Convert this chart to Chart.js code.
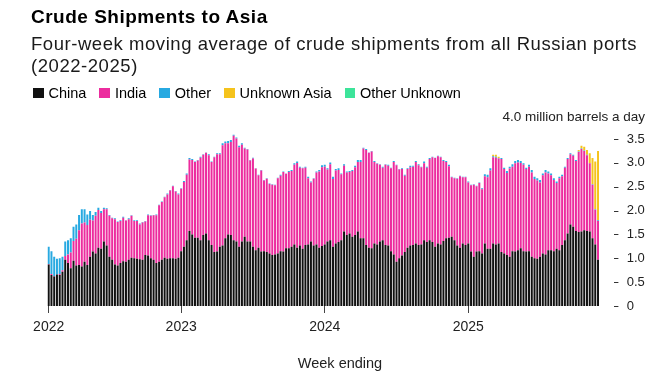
<!DOCTYPE html>
<html>
<head>
<meta charset="utf-8">
<title>Crude Shipments to Asia</title>
<script src="https://cdn.jsdelivr.net/npm/chart.js@4.4.1/dist/chart.umd.min.js"></script>
<style>
  html, body { margin: 0; padding: 0; background: #fff; }
  body { width: 658px; height: 378px; position: relative; overflow: hidden;
         font-family: "Liberation Sans", Arial, sans-serif; color: #000; }
  #chart { position: absolute; left: 0; top: 0; }
  .txt { position: absolute; white-space: nowrap; }
  #title { left: 31px; top: 5px; font-size: 19px; font-weight: bold; line-height: 24px; letter-spacing: 0.5px; }
  #sub { left: 31px; top: 33px; font-size: 18.5px; line-height: 21.7px; letter-spacing: 0.55px; color: #1a1a1a; }
  #legend { left: 33px; top: 86px; display: flex; font-size: 14.5px; line-height: 14px; }
  #legend .item { display: flex; align-items: center; margin-right: 13px; }
  #legend .box { width: 10.5px; height: 10.5px; margin-right: 5px; }
  #unit { right: 13px; top: 109px; font-size: 13.5px; line-height: 16px; color: #222; }
  #xtitle { left: 340px; top: 354px; transform: translateX(-50%); font-size: 14.5px; line-height: 18px; color: #222; }
</style>
</head>
<body>
<canvas id="chart" width="658" height="378"></canvas>
<div class="txt" id="title">Crude Shipments to Asia</div>
<div class="txt" id="sub">Four-week moving average of crude shipments from all Russian ports<br>(2022-2025)</div>
<div class="txt" id="legend"></div>
<div class="txt" id="unit">4.0 million barrels a day</div>
<div class="txt" id="xtitle">Week ending</div>
<script>
// Weekly values, million barrels a day
const china = [
  0.87, 0.65, 0.62, 0.66, 0.65, 0.72, 0.97, 0.90, 0.79, 0.95,
  0.85, 0.86, 0.83, 0.93, 0.86, 1.03, 1.14, 1.10, 1.22, 1.20,
  1.35, 1.27, 1.03, 0.97, 0.87, 0.85, 0.90, 0.94, 0.93, 0.97,
  1.01, 1.00, 0.99, 0.98, 0.97, 1.07, 1.06, 1.00, 0.97, 0.90,
  0.93, 0.97, 1.01, 0.99, 1.00, 1.00, 0.99, 1.01, 1.15, 1.24,
  1.38, 1.57, 1.50, 1.43, 1.43, 1.38, 1.49, 1.52, 1.38, 1.28,
  1.13, 1.14, 1.24, 1.27, 1.42, 1.50, 1.49, 1.38, 1.35, 1.24,
  1.35, 1.45, 1.35, 1.35, 1.24, 1.17, 1.22, 1.14, 1.15, 1.13,
  1.10, 1.07, 1.08, 1.10, 1.15, 1.14, 1.21, 1.21, 1.24, 1.29,
  1.22, 1.27, 1.20, 1.28, 1.29, 1.35, 1.27, 1.29, 1.22, 1.26,
  1.29, 1.35, 1.38, 1.24, 1.31, 1.34, 1.38, 1.56, 1.49, 1.52,
  1.45, 1.49, 1.56, 1.42, 1.42, 1.28, 1.22, 1.21, 1.31, 1.29,
  1.35, 1.38, 1.28, 1.27, 1.15, 1.08, 0.93, 1.00, 1.06, 1.13,
  1.22, 1.27, 1.28, 1.31, 1.28, 1.29, 1.38, 1.34, 1.38, 1.34,
  1.24, 1.31, 1.29, 1.36, 1.42, 1.43, 1.45, 1.38, 1.27, 1.22,
  1.31, 1.28, 1.31, 1.14, 1.03, 1.14, 1.15, 1.10, 1.31, 1.20,
  1.20, 1.31, 1.29, 1.31, 1.13, 1.10, 1.07, 1.03, 1.15, 1.14,
  1.17, 1.21, 1.15, 1.14, 1.15, 1.03, 1.00, 0.99, 1.03, 1.10,
  1.08, 1.17, 1.17, 1.15, 1.20, 1.17, 1.28, 1.38, 1.52, 1.71,
  1.66, 1.57, 1.55, 1.56, 1.59, 1.57, 1.56, 1.42, 1.29, 0.97
];
const india = [
  0.01, 0.02, 0.01, 0.00, 0.02, 0.03, 0.08, 0.18, 0.33, 0.41,
  0.56, 0.73, 0.90, 0.82, 0.84, 0.78, 0.65, 0.79, 0.79, 0.75,
  0.68, 0.76, 0.86, 0.87, 0.95, 0.91, 0.88, 0.91, 0.86, 0.85,
  0.88, 0.78, 0.79, 0.73, 0.78, 0.70, 0.84, 0.89, 0.93, 1.00,
  1.18, 1.21, 1.27, 1.35, 1.42, 1.51, 1.41, 1.33, 1.31, 1.36,
  1.37, 1.50, 1.56, 1.59, 1.62, 1.73, 1.68, 1.69, 1.78, 1.74,
  1.99, 2.04, 1.94, 2.10, 1.99, 1.91, 1.95, 2.19, 2.16, 2.09,
  2.03, 1.85, 1.93, 1.70, 1.85, 1.71, 1.52, 1.70, 1.48, 1.54,
  1.46, 1.47, 1.45, 1.58, 1.58, 1.67, 1.56, 1.60, 1.59, 1.67,
  1.78, 1.63, 1.69, 1.62, 1.39, 1.24, 1.40, 1.51, 1.60, 1.65,
  1.63, 1.51, 1.59, 1.42, 1.53, 1.51, 1.38, 1.38, 1.31, 1.29,
  1.38, 1.42, 1.46, 1.60, 1.88, 1.99, 1.99, 2.03, 1.71, 1.69,
  1.61, 1.52, 1.68, 1.67, 1.74, 1.94, 2.02, 1.86, 1.81, 1.60,
  1.65, 1.64, 1.64, 1.71, 1.67, 1.62, 1.61, 1.56, 1.70, 1.78,
  1.86, 1.83, 1.83, 1.68, 1.60, 1.50, 1.25, 1.30, 1.40, 1.50,
  1.39, 1.42, 1.28, 1.39, 1.51, 1.37, 1.43, 1.35, 1.41, 1.50,
  1.64, 1.81, 1.82, 1.78, 1.95, 1.77, 1.72, 1.85, 1.77, 1.85,
  1.84, 1.79, 1.81, 1.73, 1.77, 1.77, 1.66, 1.64, 1.56, 1.64,
  1.72, 1.61, 1.57, 1.49, 1.38, 1.51, 1.44, 1.52, 1.56, 1.47,
  1.49, 1.47, 1.68, 1.73, 1.66, 1.59, 1.43, 1.12, 0.73, 0.81
];
const other = [
  0.36, 0.48, 0.40, 0.33, 0.33, 0.28, 0.30, 0.30, 0.30, 0.30,
  0.30, 0.32, 0.30, 0.28, 0.22, 0.18, 0.12, 0.08, 0.05, 0.04,
  0.03, 0.02, 0.02, 0.01, 0.02, 0.01, 0.02, 0.02, 0.01, 0.02,
  0.01, 0.02, 0.02, 0.02, 0.01, 0.01, 0.02, 0.01, 0.01, 0.02,
  0.01, 0.01, 0.01, 0.02, 0.01, 0.01, 0.01, 0.02, 0.01, 0.02,
  0.03, 0.03, 0.02, 0.01, 0.01, 0.02, 0.01, 0.01, 0.02, 0.01,
  0.01, 0.02, 0.02, 0.04, 0.04, 0.05, 0.04, 0.02, 0.02, 0.03,
  0.03, 0.02, 0.01, 0.01, 0.02, 0.01, 0.01, 0.01, 0.01, 0.01,
  0.01, 0.01, 0.01, 0.01, 0.02, 0.01, 0.01, 0.02, 0.02, 0.03,
  0.03, 0.02, 0.01, 0.02, 0.03, 0.02, 0.01, 0.02, 0.03, 0.04,
  0.04, 0.03, 0.04, 0.05, 0.03, 0.04, 0.02, 0.03, 0.02, 0.02,
  0.02, 0.03, 0.04, 0.04, 0.02, 0.02, 0.01, 0.01, 0.02, 0.01,
  0.01, 0.02, 0.01, 0.02, 0.01, 0.02, 0.01, 0.01, 0.02, 0.02,
  0.02, 0.03, 0.02, 0.02, 0.02, 0.01, 0.04, 0.02, 0.02, 0.01,
  0.01, 0.01, 0.01, 0.02, 0.02, 0.03, 0.01, 0.01, 0.01, 0.01,
  0.01, 0.01, 0.02, 0.01, 0.01, 0.01, 0.01, 0.02, 0.04, 0.05,
  0.05, 0.02, 0.02, 0.01, 0.02, 0.03, 0.04, 0.04, 0.05, 0.05,
  0.05, 0.04, 0.03, 0.03, 0.04, 0.05, 0.05, 0.05, 0.05, 0.04,
  0.05, 0.04, 0.04, 0.04, 0.03, 0.03, 0.03, 0.02, 0.02, 0.02,
  0.02, 0.02, 0.01, 0.01, 0.01, 0.01, 0.01, 0.01, 0.01, 0.02
];
const unknownAsia = [
  0, 0, 0, 0, 0, 0, 0, 0, 0, 0,
  0, 0, 0, 0, 0, 0, 0, 0, 0, 0,
  0, 0, 0, 0, 0, 0, 0, 0, 0, 0,
  0, 0, 0, 0, 0, 0, 0, 0, 0, 0,
  0, 0, 0, 0, 0, 0, 0, 0, 0, 0,
  0, 0, 0, 0, 0, 0, 0, 0, 0, 0,
  0, 0, 0, 0, 0, 0, 0, 0, 0, 0,
  0, 0, 0, 0, 0, 0, 0, 0, 0, 0,
  0, 0, 0, 0, 0, 0, 0, 0, 0, 0,
  0, 0, 0, 0, 0, 0, 0, 0, 0, 0,
  0, 0, 0, 0, 0, 0, 0, 0, 0, 0,
  0, 0, 0, 0, 0, 0, 0, 0, 0, 0,
  0, 0, 0, 0, 0, 0, 0, 0, 0, 0,
  0, 0, 0, 0, 0, 0, 0, 0, 0, 0,
  0, 0, 0, 0, 0, 0, 0, 0, 0, 0,
  0, 0, 0, 0, 0, 0, 0, 0, 0, 0,
  0, 0.03, 0.04, 0.03, 0, 0, 0, 0, 0, 0,
  0, 0, 0, 0, 0, 0, 0, 0, 0, 0,
  0, 0, 0, 0, 0, 0, 0, 0, 0, 0,
  0, 0, 0.03, 0.06, 0.08, 0.10, 0.20, 0.55, 1.00, 1.45
];
const otherUnknown = [
  0, 0, 0, 0, 0, 0, 0, 0, 0, 0,
  0, 0, 0, 0, 0, 0, 0, 0, 0, 0,
  0, 0, 0, 0, 0, 0, 0, 0, 0, 0,
  0, 0, 0, 0, 0, 0, 0, 0, 0, 0,
  0, 0, 0, 0, 0, 0, 0, 0, 0, 0,
  0, 0, 0, 0, 0, 0, 0, 0, 0, 0,
  0, 0, 0, 0, 0, 0, 0, 0, 0, 0,
  0, 0, 0, 0, 0, 0, 0, 0, 0, 0,
  0, 0, 0, 0, 0, 0, 0, 0, 0, 0,
  0, 0, 0, 0, 0, 0, 0, 0, 0, 0,
  0, 0, 0, 0, 0, 0, 0, 0, 0, 0,
  0, 0, 0, 0, 0, 0, 0, 0, 0, 0,
  0, 0, 0, 0, 0, 0, 0, 0, 0, 0,
  0, 0, 0, 0, 0, 0, 0, 0, 0, 0,
  0, 0, 0, 0, 0, 0, 0, 0, 0, 0,
  0, 0, 0, 0, 0, 0, 0, 0, 0, 0,
  0, 0, 0, 0, 0, 0, 0, 0, 0, 0,
  0, 0, 0, 0, 0, 0, 0, 0, 0, 0,
  0, 0, 0, 0, 0, 0, 0, 0, 0, 0,
  0, 0, 0, 0, 0, 0, 0, 0, 0, 0
];

// x-axis year ticks: label and the week index where it sits
const yearLabels = ['2022', '2023', '2024', '2025'];
const yearWeeks = [0, 48, 100, 152];

const seriesNames = ['China', 'India', 'Other', 'Unknown Asia', 'Other Unknown'];
const seriesColors = ['#111111', '#ec2c9e', '#27a9e1', '#f5c31c', '#3de49a'];
const seriesData = [china, india, other, unknownAsia, otherUnknown];

const weeks = china.map((_, i) => 'W' + i);

// legend (html)
const legend = document.getElementById('legend');
seriesNames.forEach((name, i) => {
  const item = document.createElement('div');
  item.className = 'item';
  item.innerHTML = '<span class="box" style="background:' + seriesColors[i] + '"></span>' + name;
  legend.appendChild(item);
});

// short dashes in front of the y tick labels
const yDashes = {
  id: 'yDashes',
  afterDraw(chart) {
    const { ctx, scales: { y } } = chart;
    ctx.save();
    ctx.strokeStyle = '#333';
    ctx.lineWidth = 1;
    y.ticks.forEach(t => {
      const py = Math.round(y.getPixelForValue(t.value)) + 0.5;
      ctx.beginPath();
      ctx.moveTo(y.left + 14.6, py);
      ctx.lineTo(y.left + 19, py);
      ctx.stroke();
    });
    ctx.restore();
  }
};

new Chart(document.getElementById('chart'), {
  type: 'bar',
  data: {
    labels: weeks,
    datasets: seriesNames.map((name, i) => ({
      label: name,
      data: seriesData[i],
      backgroundColor: seriesColors[i],
      borderWidth: 0,
      barPercentage: 0.72,
      categoryPercentage: 1.0
    }))
  },
  options: {
    responsive: false,
    animation: false,
    devicePixelRatio: 1,
    layout: { padding: { left: 47.3, right: 0, top: 129.5, bottom: 0 } },
    plugins: {
      legend: { display: false },
      tooltip: { enabled: false }
    },
    scales: {
      x: {
        stacked: true,
        offset: true,
        border: { display: false },
        grid: {
          offset: false,
          drawOnChartArea: false,
          tickLength: 7,
          color: ctx => yearWeeks.includes(ctx.index) ? '#444' : 'rgba(0,0,0,0)'
        },
        ticks: {
          autoSkip: false,
          maxRotation: 0,
          padding: 6,
          color: '#222',
          font: { family: '"Liberation Sans", Arial, sans-serif', size: 14 },
          callback: (v, i) => {
            const k = yearWeeks.indexOf(i);
            return k >= 0 ? yearLabels[k] : '';
          }
        },
        afterFit: s => { s.height = 72; }
      },
      y: {
        position: 'right',
        stacked: true,
        min: 0,
        max: 3.7,
        border: { display: false },
        grid: { display: false, drawTicks: false },
        ticks: {
          stepSize: 0.5,
          includeBounds: false,
          padding: 27.3,
          color: '#222',
          font: { family: '"Liberation Sans", Arial, sans-serif', size: 13 },
          callback: v => v === 0 ? '0' : v.toFixed(1)
        },
        afterFit: s => { s.width = 58.6; }
      }
    }
  },
  plugins: [yDashes]
});
</script>
</body>
</html>
